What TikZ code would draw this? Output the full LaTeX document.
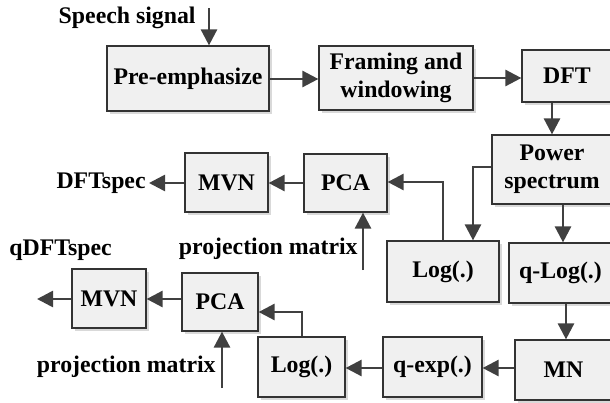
\documentclass[tikz,border=0pt]{standalone}
\usepackage{fontspec}
\setmainfont{Liberation Serif}
\usetikzlibrary{arrows.meta,shadows}
\tikzset{
  box/.style={draw=black!80, line width=0.6pt, fill=black!6, inner sep=0pt,
    align=center, font=\fontsize{11.9}{14}\selectfont\bfseries,
    drop shadow={shadow xshift=1.6pt, shadow yshift=-1.6pt, fill=black!15, opacity=1}},
  lbl/.style={inner sep=0pt, font=\fontsize{11.9}{14}\selectfont\bfseries},
  flow/.style={draw=black!75, line width=1.3pt,
    -{Triangle[length=8pt,width=8pt]}},
}
\begin{document}
\begin{tikzpicture}[x=0.5pt,y=-0.5pt]
\useasboundingbox (0,0) rectangle (610,402);

% processing blocks
\node[box, minimum width=81pt,   minimum height=32.5pt] (pre)  at (188,78.5)   {Pre-emphasize};
\node[box, minimum width=77pt,   minimum height=32pt]   (fram) at (396,78)     {Framing and\\windowing};
\node[box, minimum width=45pt,   minimum height=26pt]   (dft)  at (567,76)     {DFT};
\node[box, minimum width=60pt,   minimum height=34.5pt] (pow)  at (552,169.5)  {Power\\spectrum};
\node[box, minimum width=41.5pt, minimum height=29pt]   (pcaA) at (345.5,183)  {PCA};
\node[box, minimum width=41.5pt, minimum height=29.5pt] (mvnA) at (226.5,182.5){MVN};
\node[box, minimum width=56pt,   minimum height=30.5pt] (logA) at (443,271.5)  {Log(.)};
\node[box, minimum width=51.5pt, minimum height=30pt]   (qlog) at (560.5,273)  {q-Log(.)};
\node[box, minimum width=48.5pt, minimum height=30pt]   (mn)   at (563.5,370)  {MN};
\node[box, minimum width=49.5pt, minimum height=30pt]   (qexp) at (432.5,367)  {q-exp(.)};
\node[box, minimum width=43.5pt, minimum height=30pt]   (logB) at (301.5,367)  {Log(.)};
\node[box, minimum width=38pt,   minimum height=29pt]   (pcaB) at (220,302)    {PCA};
\node[box, minimum width=37pt,   minimum height=29.5pt] (mvnB) at (109,298.5)  {MVN};

% labels
\node[lbl, anchor=east] (speech) at (196,18)  {Speech signal};
\node[lbl, anchor=east] (dftspec) at (146,183) {DFTspec};
\node[lbl, anchor=west] (qdftspec) at (9,250) {qDFTspec};
\node[lbl, anchor=east] (projA) at (358,249)  {projection matrix};
\node[lbl, anchor=east] (projB) at (216,367)  {projection matrix};

% free ends
\coordinate (sIn)   at (209,8);
\coordinate (pAIn)  at (363,270);
\coordinate (pBIn)  at (222,388);
\coordinate (outA)  at (149,183);
\coordinate (outB)  at (37,299);

% connectors
\draw[flow] (sIn) -- (sIn |- pre.north);
\draw[flow] (pre.east |- 0,79) -- (fram.west |- 0,79);
\draw[flow] (fram.east |- 0,78) -- (dft.west |- 0,78);
\draw[flow] (552,0 |- dft.south) -- (552,0 |- pow.north);
\draw[flow] (pow.west |- 0,167) -| (473,0 |- logA.north);
\draw[flow] (563,0 |- pow.south) -- (563,0 |- qlog.north);
\draw[flow] (443,0 |- logA.north) |- (pcaA.east |- 0,182);
\draw[flow] (pcaA.west |- 0,183) -- (mvnA.east |- 0,183);
\draw[flow] (mvnA.west |- 0,183) -- (outA);
\draw[flow] (pAIn) -- (pAIn |- pcaA.south);
\draw[flow] (566,0 |- qlog.south) -- (566,0 |- mn.north);
\draw[flow] (mn.west |- 0,368) -- (qexp.east |- 0,368);
\draw[flow] (qexp.west |- 0,368) -- (logB.east |- 0,368);
\draw[flow] (302,0 |- logB.north) |- (pcaB.east |- 0,312);
\draw[flow] (pcaB.west |- 0,299) -- (mvnB.east |- 0,299);
\draw[flow] (mvnB.west |- 0,299) -- (outB);
\draw[flow] (pBIn) -- (pBIn |- pcaB.south);
\end{tikzpicture}
\end{document}
